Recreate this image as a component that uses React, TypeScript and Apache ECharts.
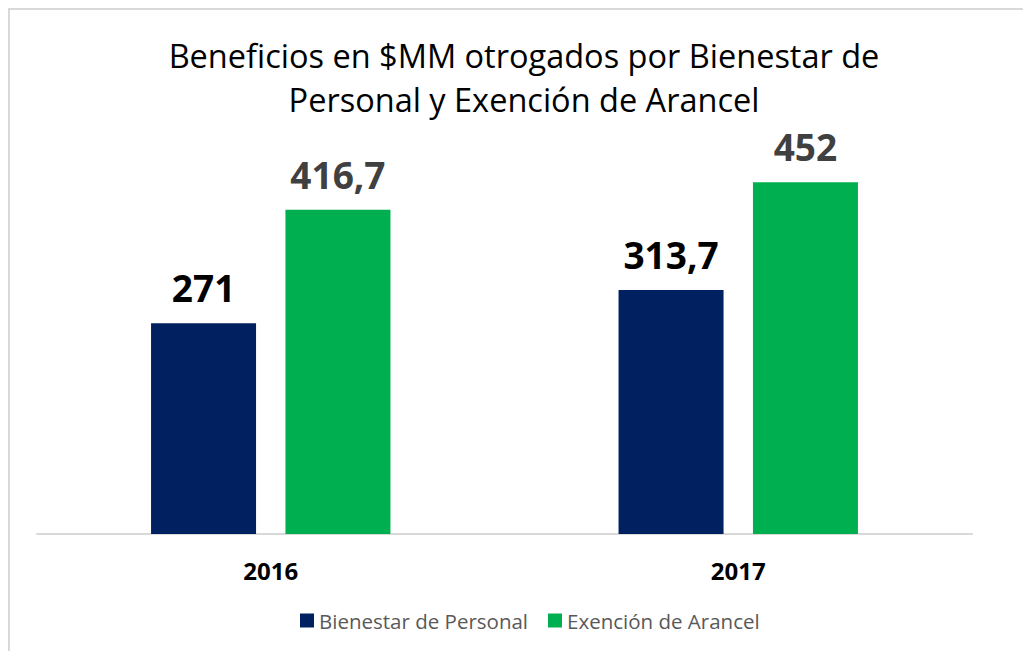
import React, { useEffect, useRef } from "react";
import * as echarts from "echarts";

const categories = ["2016", "2017"];
const bienestar = [271, 313.7];
const exencion = [416.7, 452];
const bienestarLabels = ["271", "313,7"];
const exencionLabels = ["416,7", "452"];
const titleText = "Beneficios en $MM otrogados por Bienestar de\nPersonal y Exención de Arancel";

const FONT = "'Open Sans', 'Noto Sans', sans-serif";

export default function App() {
  const ref = useRef<HTMLDivElement>(null);
  useEffect(() => {
    if (!ref.current) return;
    const chart = echarts.init(ref.current, undefined, { renderer: "svg" });
    chart.setOption({
      animation: false,
      backgroundColor: "#ffffff",
      textStyle: { fontFamily: FONT },
      graphic: [
        {
          type: "rect",
          shape: { x: 9, y: 9, width: 1100, height: 700 },
          style: { fill: "none", stroke: "#d9d9d9", lineWidth: 2 },
          silent: true,
        },
      ],
      title: {
        text: titleText,
        left: 519,
        top: 28,
        textAlign: "center",
        textStyle: {
          fontFamily: FONT,
          fontSize: 32.5,
          fontWeight: "normal",
          color: "#000000",
          lineHeight: 44,
        },
      },
      legend: {
        top: 605,
        left: 295,
        itemWidth: 14,
        itemHeight: 14,
        itemGap: 20,
        icon: "rect",
        textStyle: { fontFamily: FONT, fontSize: 20.5, color: "#595959" },
        data: ["Bienestar de Personal", "Exención de Arancel"],
      },
      grid: { left: 37, right: 51, top: 145, bottom: 117 },
      xAxis: {
        type: "category",
        data: categories,
        axisLine: { lineStyle: { color: "#d9d9d9", width: 2 } },
        axisTick: { show: false },
        axisLabel: {
          fontFamily: FONT,
          fontSize: 24,
          fontWeight: "bold",
          color: "#000000",
          margin: 24,
        },
      },
      yAxis: {
        type: "value",
        min: 0,
        max: 500,
        show: false,
        splitLine: { show: false },
      },
      series: [
        {
          name: "Bienestar de Personal",
          type: "bar",
          data: bienestar,
          barWidth: 105,
          barGap: "28%",
          itemStyle: { color: "#002060" },
          label: {
            show: true,
            position: "top",
            distance: 17,
            formatter: (p: any) => bienestarLabels[p.dataIndex],
            fontFamily: FONT,
            fontSize: 37,
            fontWeight: "bold",
            color: "#000000",
          },
        },
        {
          name: "Exención de Arancel",
          type: "bar",
          data: exencion,
          barWidth: 105,
          barGap: "28%",
          itemStyle: { color: "#00b050" },
          label: {
            show: true,
            position: "top",
            distance: 17,
            formatter: (p: any) => exencionLabels[p.dataIndex],
            fontFamily: FONT,
            fontSize: 37,
            fontWeight: "bold",
            color: "#404040",
          },
        },
      ],
    });
    return () => chart.dispose();
  }, []);
  return (
    <div
      ref={ref}
      style={{ position: "fixed", left: 0, top: 0, width: 1023, height: 651 }}
    />
  );
}
